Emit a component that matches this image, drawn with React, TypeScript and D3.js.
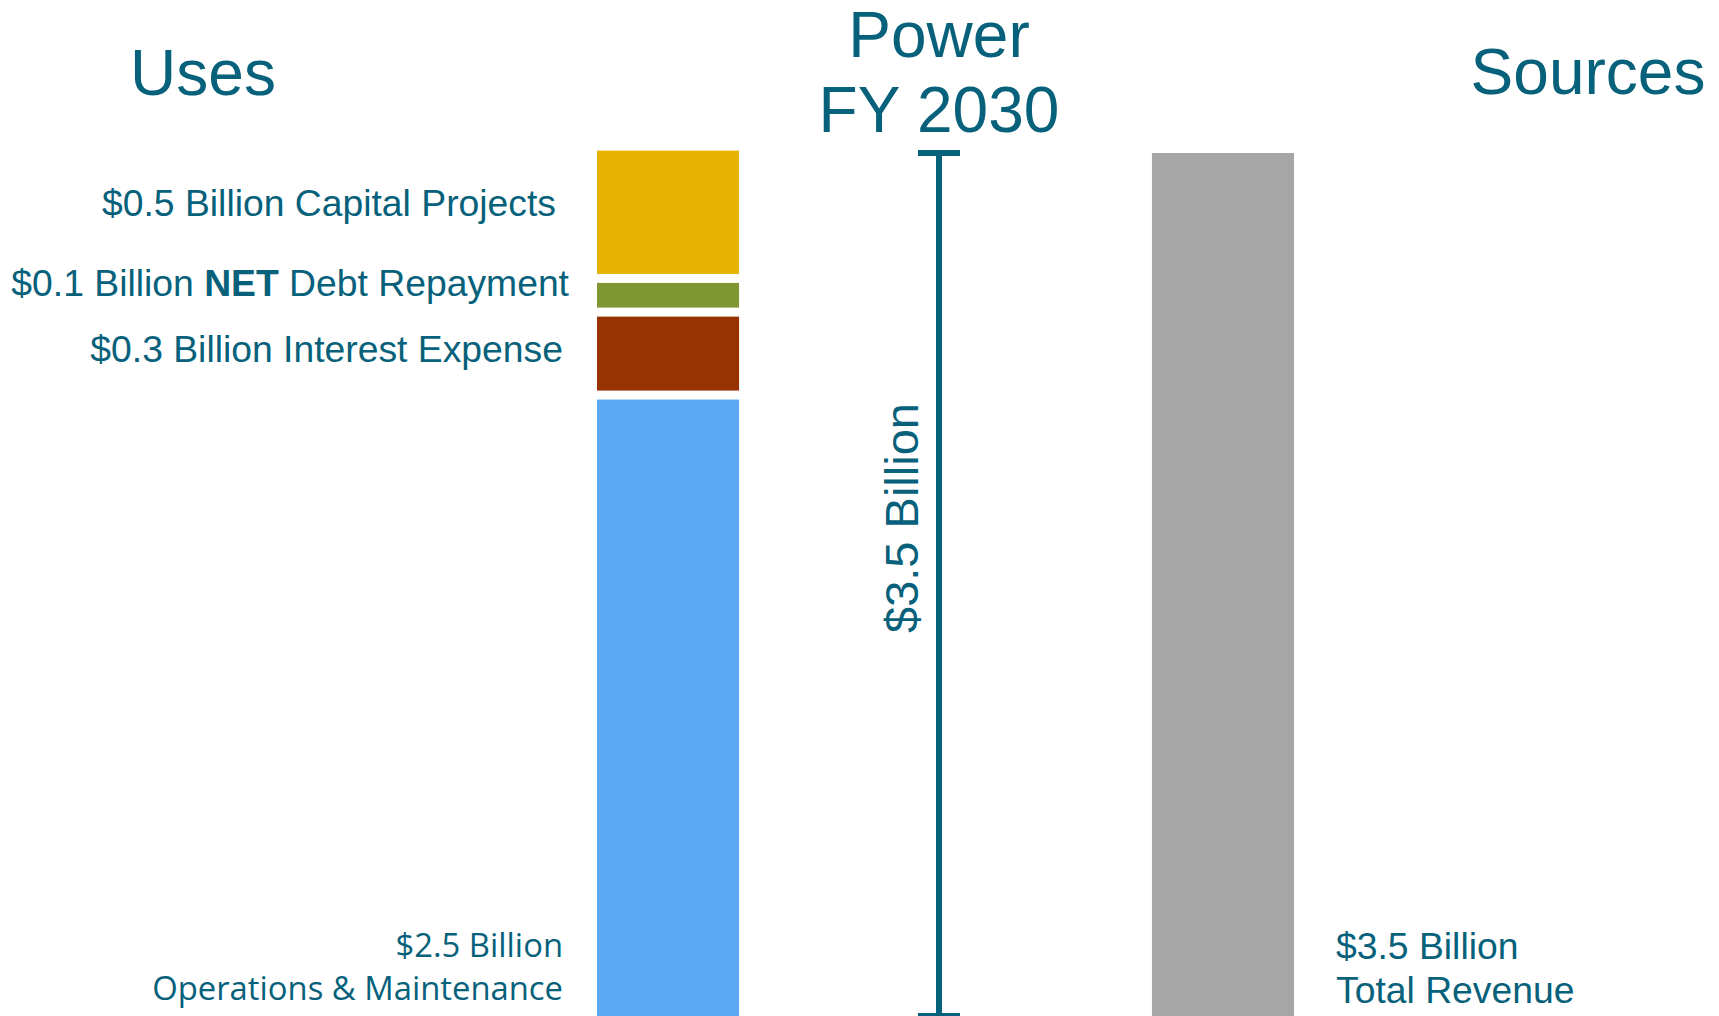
import React from "react";
import * as d3 from "d3";

// Uses of funds, bottom to top, in $ billions
const useCategories = [
  "Operations & Maintenance",
  "Interest Expense",
  "NET Debt Repayment",
  "Capital Projects",
];
const useValues = [2.5, 0.3, 0.1, 0.5];
const useColors = ["#5BA9F2", "#983200", "#7F9632", "#E8B200"];

// Sources of funds
const sourceCategories = ["Total Revenue"];
const sourceValues = [3.5];
const sourceColors = ["#A6A6A6"];

const columns = ["Uses", "Sources"];
const totalLabel = "$3.5 Billion";
const titleLines = ["Power", "FY 2030"];

const W = 1719;
const H = 1016;
const TEAL = "#07617B";
const ARIAL = "'Liberation Sans', Arial, sans-serif";
const CALIBRI = "'Open Sans', Lato, sans-serif";

export default function App() {
  const x = d3
    .scaleBand<string>()
    .domain(columns)
    .range([597, 1294])
    .paddingInner(0.744)
    .paddingOuter(0);
  const bw = x.bandwidth();

  const y = d3.scaleLinear().domain([0, 3.5]).range([H, 153]);
  const pxPerUnit = y(0) - y(1);
  const gap = 9;

  // stack the uses with a small white gap between segments
  let cursor = y(0);
  const useSegs = useValues.map((v, i) => {
    const h = v * pxPerUnit;
    const seg = { y: cursor - h, h, color: useColors[i], cat: useCategories[i], v };
    cursor -= h + gap;
    return seg;
  });

  const fmt = (v: number) => `$${d3.format(".1f")(v)} Billion`;
  const usesX = x("Uses")!;
  const srcX = x("Sources")!;
  const lineX = 939;
  const capW = 42;

  // anchor points for the three upper labels (right edge, baseline)
  const labelPos: Record<string, [number, number]> = {
    "Capital Projects": [556, 216],
    "NET Debt Repayment": [569, 296],
    "Interest Expense": [563, 362],
  };

  return (
    <svg
      width={W}
      height={H}
      style={{ position: "absolute", left: 0, top: 0, display: "block", background: "#fff" }}
    >
      {/* column headings */}
      <text x={203} y={95} fontFamily={ARIAL} fontSize={64} fill={TEAL} textAnchor="middle">
        Uses
      </text>
      <text x={1588} y={94} fontFamily={ARIAL} fontSize={64} fill={TEAL} textAnchor="middle">
        Sources
      </text>
      {titleLines.map((t, i) => (
        <text
          key={t}
          x={lineX}
          y={57 + i * 75}
          fontFamily={ARIAL}
          fontSize={64}
          fill={TEAL}
          textAnchor="middle"
        >
          {t}
        </text>
      ))}

      {/* uses stack */}
      {useSegs.map((s) => (
        <rect key={s.cat} x={usesX} y={s.y} width={bw} height={s.h} fill={s.color} />
      ))}

      {/* source bar */}
      {sourceValues.map((v, i) => (
        <rect
          key={sourceCategories[i]}
          x={srcX}
          y={y(v)}
          width={bw}
          height={y(0) - y(v)}
          fill={sourceColors[i]}
        />
      ))}

      {/* labels for the upper uses */}
      {useSegs.slice(1).map((s) => {
        const [end, base] = labelPos[s.cat];
        if (s.cat === "NET Debt Repayment") {
          return (
            <text key={s.cat} x={end} y={base} fontFamily={ARIAL} fontSize={37.3} fill={TEAL} textAnchor="end">
              {fmt(s.v)} <tspan fontWeight="bold">NET</tspan> Debt Repayment
            </text>
          );
        }
        return (
          <text key={s.cat} x={end} y={base} fontFamily={ARIAL} fontSize={37.3} fill={TEAL} textAnchor="end">
            {`${fmt(s.v)} ${s.cat}`}
          </text>
        );
      })}

      {/* O&M label */}
      <text x={563} y={957} fontFamily={CALIBRI} fontSize={32.8} fill={TEAL} textAnchor="end">
        {fmt(useValues[0])}
      </text>
      <text x={563} y={1000} fontFamily={CALIBRI} fontSize={32.8} fill={TEAL} textAnchor="end">
        {useCategories[0]}
      </text>

      {/* revenue label */}
      <text x={1336} y={959} fontFamily={ARIAL} fontSize={37.3} fill={TEAL}>
        {fmt(sourceValues[0])}
      </text>
      <text x={1336} y={1003} fontFamily={ARIAL} fontSize={37.3} fill={TEAL}>
        {sourceCategories[0]}
      </text>

      {/* total bracket */}
      <line x1={lineX} x2={lineX} y1={y(3.5)} y2={y(0)} stroke={TEAL} strokeWidth={6} />
      <line x1={lineX - capW / 2} x2={lineX + capW / 2} y1={y(3.5)} y2={y(3.5)} stroke={TEAL} strokeWidth={6} />
      <line x1={lineX - capW / 2} x2={lineX + capW / 2} y1={y(0)} y2={y(0)} stroke={TEAL} strokeWidth={6} />
      <text
        transform={`translate(918, 518) rotate(-90)`}
        fontFamily={ARIAL}
        fontSize={47}
        fill={TEAL}
        textAnchor="middle"
      >
        {totalLabel}
      </text>
    </svg>
  );
}
